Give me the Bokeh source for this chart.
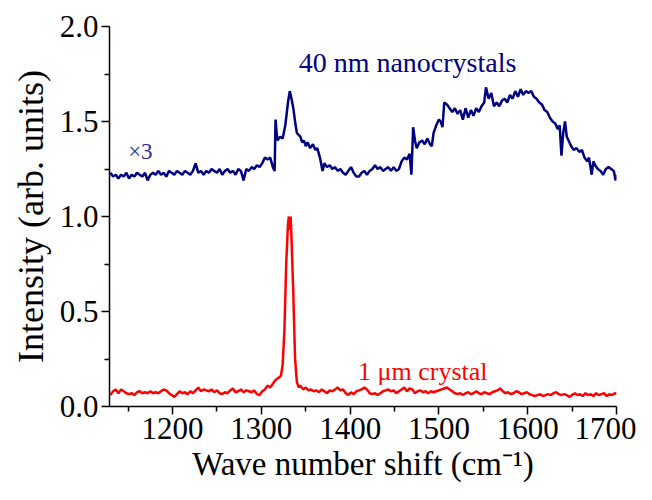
from bokeh.plotting import figure
from bokeh.models import Range1d, FixedTicker, PrintfTickFormatter
from bokeh.core.properties import value
from bokeh.embed import file_html
from bokeh.resources import INLINE

# ---------------- data ----------------
nano_x = [1130, 1133, 1136, 1139, 1142, 1145, 1148, 1151, 1154, 1157, 1160, 1163, 1166, 1169, 1172, 1175,
          1178, 1181, 1184, 1187, 1190, 1193, 1196, 1199, 1202, 1205, 1208, 1211, 1214, 1217, 1220, 1223,
          1226, 1229, 1232, 1235, 1238, 1241, 1244, 1247, 1250, 1253, 1256, 1259, 1262, 1265, 1268, 1271,
          1274, 1277, 1280, 1283, 1286, 1289, 1292, 1295, 1298, 1301, 1304, 1307, 1310, 1313, 1315, 1316,
          1318, 1321, 1324, 1327, 1330, 1332, 1334, 1336, 1338, 1340, 1342, 1344, 1346, 1348, 1350, 1352,
          1355, 1358, 1361, 1363, 1366, 1369, 1371, 1374, 1377, 1380, 1383, 1386, 1389, 1392, 1395, 1398,
          1401, 1404, 1407, 1410, 1413, 1416, 1419, 1422, 1425, 1428, 1431, 1434, 1437, 1440, 1443, 1446,
          1449, 1452, 1455, 1458, 1461, 1464, 1467, 1469, 1471, 1473, 1475, 1478, 1481, 1484, 1487, 1490,
          1492, 1494, 1497, 1500, 1502, 1504, 1506, 1509, 1512, 1515, 1518, 1521, 1524, 1527, 1530, 1533,
          1536, 1539, 1542, 1545, 1548, 1551, 1553, 1556, 1559, 1562, 1565, 1568, 1571, 1574, 1577, 1580,
          1583, 1586, 1589, 1592, 1595, 1598, 1601, 1604, 1607, 1610, 1613, 1616, 1619, 1622, 1625, 1628,
          1631, 1634, 1636, 1638, 1640, 1642, 1644, 1646, 1649, 1652, 1655, 1658, 1661, 1664, 1667, 1669,
          1672, 1674, 1676, 1679, 1682, 1685, 1688, 1691, 1694, 1697, 1699, 1700]
nano_y = [1.23, 1.21, 1.22, 1.20, 1.22, 1.21, 1.23, 1.20, 1.22, 1.21, 1.23, 1.22, 1.21, 1.23, 1.19, 1.22,
          1.23, 1.22, 1.24, 1.22, 1.23, 1.21, 1.24, 1.23, 1.22, 1.24, 1.23, 1.22, 1.24, 1.23, 1.22, 1.24,
          1.28, 1.23, 1.24, 1.22, 1.24, 1.23, 1.25, 1.24, 1.23, 1.25, 1.22, 1.24, 1.25, 1.23, 1.24, 1.22,
          1.25, 1.24, 1.19, 1.25, 1.24, 1.26, 1.25, 1.27, 1.26, 1.28, 1.31, 1.30, 1.31, 1.26, 1.24, 1.51,
          1.40, 1.42, 1.41, 1.48, 1.60, 1.66, 1.62, 1.57, 1.50, 1.44, 1.43, 1.42, 1.39, 1.40, 1.37, 1.39,
          1.36, 1.38, 1.35, 1.36, 1.31, 1.24, 1.28, 1.26, 1.27, 1.25, 1.26, 1.24, 1.25, 1.23, 1.22, 1.24,
          1.26, 1.23, 1.21, 1.21, 1.23, 1.24, 1.22, 1.24, 1.25, 1.27, 1.25, 1.26, 1.24, 1.25, 1.26, 1.24,
          1.26, 1.24, 1.25, 1.29, 1.31, 1.30, 1.33, 1.22, 1.47, 1.40, 1.36, 1.39, 1.40, 1.38, 1.41, 1.38,
          1.37, 1.44, 1.48, 1.51, 1.50, 1.47, 1.60, 1.59, 1.57, 1.55, 1.57, 1.54, 1.56, 1.51, 1.57, 1.52,
          1.56, 1.53, 1.57, 1.55, 1.58, 1.60, 1.68, 1.62, 1.65, 1.58, 1.60, 1.58, 1.61, 1.62, 1.60, 1.64,
          1.62, 1.66, 1.63, 1.67, 1.64, 1.66, 1.65, 1.66, 1.63, 1.62, 1.60, 1.59, 1.56, 1.55, 1.52, 1.50,
          1.49, 1.46, 1.48, 1.32, 1.44, 1.50, 1.42, 1.40, 1.37, 1.35, 1.36, 1.34, 1.35, 1.31, 1.29, 1.31,
          1.22, 1.29, 1.27, 1.25, 1.24, 1.22, 1.25, 1.26, 1.25, 1.24, 1.19, 1.22]

micro_x = [1130, 1133, 1136, 1139, 1142, 1145, 1148, 1151, 1154, 1157, 1160, 1163, 1166, 1169, 1172, 1175,
           1178, 1181, 1184, 1187, 1190, 1193, 1196, 1199, 1202, 1205, 1208, 1211, 1214, 1217, 1220, 1223,
           1226, 1229, 1232, 1235, 1238, 1241, 1244, 1247, 1250, 1253, 1256, 1259, 1262, 1265, 1268, 1271,
           1274, 1277, 1280, 1283, 1286, 1289, 1292, 1295, 1298, 1301, 1304, 1307, 1310, 1313, 1316, 1319,
           1322, 1324, 1326, 1328, 1330, 1331, 1332, 1333, 1334, 1336, 1338, 1340, 1342, 1344, 1347, 1350,
           1353, 1356, 1359, 1362, 1365, 1368, 1371, 1374, 1377, 1380, 1383, 1386, 1389, 1392, 1395, 1398,
           1401, 1404, 1407, 1410, 1413, 1416, 1419, 1422, 1425, 1428, 1431, 1434, 1437, 1440, 1443, 1446,
           1449, 1452, 1455, 1458, 1461, 1464, 1467, 1470, 1473, 1476, 1479, 1482, 1485, 1488, 1491, 1494,
           1497, 1500, 1503, 1506, 1509, 1512, 1515, 1518, 1521, 1524, 1527, 1530, 1533, 1536, 1539, 1542,
           1545, 1548, 1551, 1554, 1557, 1560, 1563, 1566, 1569, 1572, 1575, 1578, 1581, 1584, 1587, 1590,
           1593, 1596, 1599, 1602, 1605, 1608, 1611, 1614, 1617, 1620, 1623, 1626, 1629, 1632, 1635, 1638,
           1641, 1644, 1647, 1650, 1653, 1656, 1659, 1662, 1665, 1668, 1671, 1674, 1677, 1680, 1683, 1686,
           1689, 1692, 1695, 1698, 1700]
micro_y = [0.060, 0.080, 0.090, 0.070, 0.090, 0.080, 0.070, 0.065, 0.070, 0.060, 0.075, 0.080, 0.070, 0.075, 0.070, 0.080,
           0.070, 0.075, 0.070, 0.080, 0.090, 0.085, 0.070, 0.060, 0.050, 0.065, 0.080, 0.070, 0.075, 0.065, 0.080, 0.070,
           0.085, 0.100, 0.080, 0.090, 0.085, 0.080, 0.090, 0.075, 0.085, 0.070, 0.065, 0.075, 0.070, 0.085, 0.095, 0.075,
           0.080, 0.090, 0.075, 0.085, 0.080, 0.075, 0.085, 0.065, 0.060, 0.080, 0.090, 0.110, 0.100, 0.120, 0.140, 0.150,
           0.160, 0.220, 0.400, 0.750, 0.960, 1.000, 0.930, 1.000, 0.880, 0.600, 0.250, 0.130, 0.100, 0.110, 0.090, 0.100,
           0.085, 0.090, 0.080, 0.085, 0.075, 0.090, 0.080, 0.070, 0.085, 0.080, 0.090, 0.100, 0.085, 0.090, 0.070, 0.060,
           0.075, 0.065, 0.080, 0.085, 0.090, 0.100, 0.090, 0.070, 0.065, 0.070, 0.060, 0.070, 0.080, 0.085, 0.090, 0.080,
           0.085, 0.070, 0.080, 0.090, 0.100, 0.080, 0.095, 0.090, 0.070, 0.080, 0.085, 0.075, 0.080, 0.070, 0.080, 0.075,
           0.080, 0.085, 0.090, 0.095, 0.100, 0.090, 0.080, 0.070, 0.065, 0.070, 0.060, 0.070, 0.075, 0.065, 0.070, 0.080,
           0.070, 0.065, 0.075, 0.070, 0.065, 0.075, 0.080, 0.085, 0.095, 0.080, 0.070, 0.075, 0.065, 0.070, 0.080, 0.075,
           0.065, 0.070, 0.075, 0.065, 0.060, 0.055, 0.060, 0.065, 0.055, 0.060, 0.065, 0.060, 0.070, 0.075, 0.065, 0.060,
           0.065, 0.060, 0.050, 0.060, 0.070, 0.060, 0.065, 0.055, 0.070, 0.060, 0.065, 0.055, 0.070, 0.060, 0.065, 0.070,
           0.055, 0.065, 0.060, 0.070, 0.065]

x_ticks = [1200, 1300, 1400, 1500, 1600, 1700]
x_minor = [1150, 1250, 1350, 1450, 1550, 1650]
y_ticks = [0.0, 0.5, 1.0, 1.5, 2.0]
y_minor = [0.25, 0.75, 1.25, 1.75]

nano_label = "40 nm nanocrystals"
micro_label = "1 \u03bcm crystal"
scale_label = "\u00d73"
x_title = "Wave number shift (cm\u207b\u00b9)"
y_title = "Intensity (arb. units)"

# ---------------- figure ----------------
SERIF = "Liberation Serif"
p = figure(width=636, height=484, output_backend="svg", toolbar_location=None,
           x_range=Range1d(1129, 1700), y_range=Range1d(0, 2.0),
           min_border_left=109, min_border_right=20, min_border_top=26, min_border_bottom=76)
p.outline_line_color = None
p.xgrid.visible = False
p.ygrid.visible = False
p.background_fill_color = "white"

p.line(nano_x, nano_y, line_color="#000080", line_width=2.5)
p.line(micro_x, micro_y, line_color="#ff0000", line_width=2.5)

p.text(x=[1342], y=[1.81], text=[nano_label], text_color="#000080",
       text_font=value(SERIF), text_font_size="28px", text_baseline="alphabetic", text_align="left")
p.text(x=[1409], y=[0.183], text=[micro_label], text_color="#ff0000",
       text_font=value(SERIF), text_font_size="26px", text_baseline="alphabetic", text_align="left")
p.text(x=[1150], y=[1.34], text=[scale_label], text_color="#2a2a9a",
       text_font=value(SERIF), text_font_size="23px", text_baseline="alphabetic", text_align="left")

for ax, ticks, minor in ((p.xaxis[0], x_ticks, x_minor), (p.yaxis[0], y_ticks, y_minor)):
    ax.ticker = FixedTicker(ticks=ticks, minor_ticks=minor)
    ax.axis_line_width = 1.5
    ax.axis_line_color = "black"
    ax.major_tick_line_width = 1.5
    ax.minor_tick_line_width = 1.5
    ax.major_tick_in = 0
    ax.major_tick_out = 8
    ax.minor_tick_in = 0
    ax.minor_tick_out = 5
    ax.major_label_text_font = SERIF
    ax.major_label_text_font_size = "31px"
    ax.major_label_text_color = "black"
    ax.major_label_standoff = 3
    ax.axis_label_text_font = SERIF
    ax.axis_label_text_font_style = "normal"
    ax.axis_label_text_color = "black"

p.yaxis[0].formatter = PrintfTickFormatter(format="%.1f")
p.xaxis[0].formatter = PrintfTickFormatter(format="%d")
p.xaxis[0].axis_label = x_title
p.yaxis[0].axis_label = y_title
p.xaxis[0].axis_label_text_font_size = "33px"
p.yaxis[0].axis_label_text_font_size = "36px"
p.xaxis[0].axis_label_standoff = 4
p.yaxis[0].axis_label_standoff = 6

open("out.html", "w").write(file_html(p, INLINE))
